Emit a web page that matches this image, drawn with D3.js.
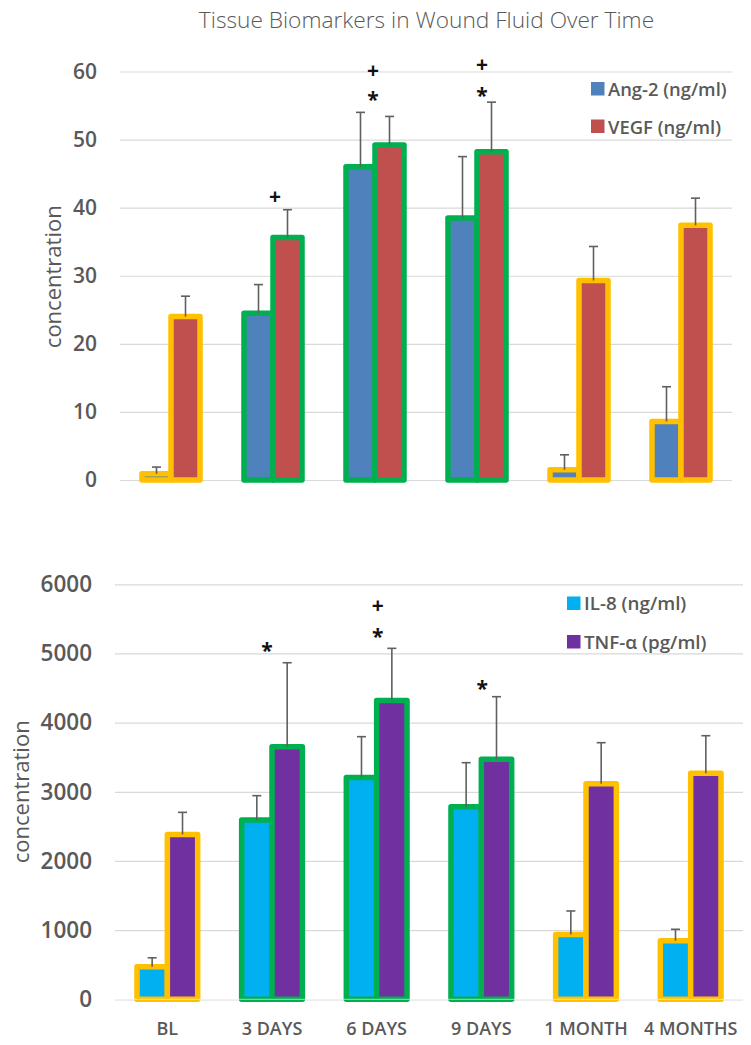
<!DOCTYPE html>
<html>
<head>
<meta charset="utf-8">
<script src="https://cdn.jsdelivr.net/npm/d3@7"></script>
<style>
  html, body { margin: 0; padding: 0; background: #fff; }
  svg { display: block; font-family: "Open Sans", "Liberation Sans", sans-serif; }
</style>
</head>
<body>
<svg id="chart" width="751" height="1045"></svg>
<script>
// ---------------- data ----------------
const categories = ["BL", "3 DAYS", "6 DAYS", "9 DAYS", "1 MONTH", "4 MONTHS"];
const borderGroup = ["orange", "green", "green", "green", "orange", "orange"];

const topSeries = ["Ang-2 (ng/ml)", "VEGF (ng/ml)"];
const ang2 = [0.9, 24.5, 46.0, 38.5, 1.5, 8.6];
const ang2Err = [1.0, 4.2, 8.0, 9.0, 2.2, 5.1];
const vegf = [24.0, 35.6, 49.2, 48.2, 29.3, 37.4];
const vegfErr = [3.0, 4.1, 4.2, 7.3, 5.0, 4.0];
const topTicks = [0, 10, 20, 30, 40, 50, 60];

const bottomSeries = ["IL-8 (ng/ml)", "TNF-\u03b1 (pg/ml)"];
const il8 = [470, 2592, 3207, 2783, 937, 846];
const il8Err = [130, 352, 590, 638, 340, 166];
const tnf = [2383, 3652, 4320, 3471, 3115, 3267];
const tnfErr = [320, 1214, 754, 904, 595, 544];
const bottomTicks = [0, 1000, 2000, 3000, 4000, 5000, 6000];

// significance marks: category, symbol, level in data units
const topMarks = [
  { cat: "3 DAYS", sym: "+", v: 41.5, dx: 2 },
  { cat: "6 DAYS", sym: "+", v: 60.1, dx: -2 },
  { cat: "6 DAYS", sym: "*", v: 56.5, dx: -2 },
  { cat: "9 DAYS", sym: "+", v: 61.0, dx: 5 },
  { cat: "9 DAYS", sym: "*", v: 57.2, dx: 5 }
];
const bottomMarks = [
  { cat: "3 DAYS", sym: "*", v: 5108, dx: -5 },
  { cat: "6 DAYS", sym: "+", v: 5686, dx: 1 },
  { cat: "6 DAYS", sym: "*", v: 5314, dx: 1 },
  { cat: "9 DAYS", sym: "*", v: 4558, dx: 1 }
];

// ---------------- style ----------------
const seriesColor = {
  "Ang-2 (ng/ml)": "#4F81BD",
  "VEGF (ng/ml)": "#C0504D",
  "IL-8 (ng/ml)": "#00B0F0",
  "TNF-\u03b1 (pg/ml)": "#7030A0"
};
const borderColor = { orange: "#FFC000", green: "#00B050" };
const textGray = "#595959";
const gridGray = "#D9D9D9";

const svg = d3.select("#chart");

svg.append("text")
  .attr("x", 426.5).attr("y", 19)
  .attr("text-anchor", "middle").attr("dominant-baseline", "central")
  .attr("font-size", 22.7).attr("font-weight", 300)
  .attr("fill", textGray)
  .text("Tissue Biomarkers in Wound Fluid Over Time");

function panel(cfg) {
  const g = svg.append("g");
  const x0 = d3.scaleBand().domain(categories)
    .range([cfg.left, cfg.right])
    .paddingInner(cfg.pad).paddingOuter(cfg.pad / 2);
  const x1 = d3.scaleBand().domain(cfg.series).range([0, x0.bandwidth()]).padding(0);
  const y = d3.scaleLinear().domain([0, d3.max(cfg.ticks)]).range([cfg.bottom, cfg.top]);

  // gridlines
  g.append("g")
    .attr("transform", `translate(${cfg.left},0)`)
    .call(d3.axisLeft(y).tickValues(cfg.ticks).tickSize(-(cfg.right - cfg.left)).tickFormat(""))
    .call(a => a.select(".domain").remove())
    .call(a => a.selectAll("line").attr("stroke", gridGray).attr("stroke-width", 1.2));

  // tick labels
  g.append("g")
    .attr("transform", `translate(${cfg.left},0)`)
    .call(d3.axisLeft(y).tickValues(cfg.ticks).tickSize(0).tickPadding(cfg.tickPad).tickFormat(d3.format("d")))
    .call(a => a.select(".domain").remove())
    .call(a => a.selectAll("text")
      .attr("font-family", '"Open Sans", sans-serif')
      .attr("font-size", cfg.tickFont).attr("font-weight", 650).attr("fill", textGray));

  // y title
  g.append("text")
    .attr("transform", `translate(${cfg.ytitleX},${(cfg.top + cfg.bottom) / 2 + cfg.ytitleDy}) rotate(-90)`)
    .attr("text-anchor", "middle").attr("dominant-baseline", "central")
    .attr("font-size", 22).attr("font-weight", 500).attr("fill", textGray)
    .text("concentration");

  // bars
  const rows = categories.map((c, i) => ({
    cat: c, i,
    vals: cfg.series.map((s, k) => ({ s, v: cfg.values[k][i], e: cfg.errors[k][i] }))
  }));
  const grp = g.selectAll(".grp").data(rows).join("g")
    .attr("transform", d => `translate(${x0(d.cat)},0)`);
  grp.selectAll("rect").data(d => d.vals.map(v => ({ ...v, b: borderGroup[d.i] }))).join("rect")
    .attr("x", d => x1(d.s))
    .attr("y", d => y(d.v))
    .attr("width", x1.bandwidth())
    .attr("height", d => y(0) - y(d.v))
    .attr("fill", d => seriesColor[d.s])
    .attr("stroke", d => borderColor[d.b])
    .attr("stroke-width", 5.5)
    .attr("stroke-linejoin", "round");

  if (cfg.baseOver) {
    g.append("line")
      .attr("x1", cfg.left).attr("x2", cfg.right)
      .attr("y1", y(0)).attr("y2", y(0))
      .attr("stroke", "#ffffff").attr("stroke-opacity", 0.6).attr("stroke-width", 1);
  }

  // error bars
  const eb = grp.selectAll(".eb").data(d => d.vals).join("g");
  eb.append("line")
    .attr("x1", d => x1(d.s) + x1.bandwidth() / 2)
    .attr("x2", d => x1(d.s) + x1.bandwidth() / 2)
    .attr("y1", d => y(d.v)).attr("y2", d => y(d.v + d.e))
    .attr("stroke", "#606060").attr("stroke-width", 1.6);
  eb.append("line")
    .attr("x1", d => x1(d.s) + x1.bandwidth() / 2 - 4.5)
    .attr("x2", d => x1(d.s) + x1.bandwidth() / 2 + 4.5)
    .attr("y1", d => y(d.v + d.e)).attr("y2", d => y(d.v + d.e))
    .attr("stroke", "#606060").attr("stroke-width", 1.6);

  // significance marks
  g.selectAll(".mark").data(cfg.marks).join("text")
    .attr("x", d => x0(d.cat) + x0.bandwidth() / 2 + d.dx)
    .attr("y", d => y(d.v) + (d.sym === "*" ? 12 : 7))
    .attr("text-anchor", "middle")
    .attr("font-size", 21).attr("font-weight", 700).attr("fill", "#111")
    .text(d => d.sym);

  // legend
  const lg = g.selectAll(".lg").data(cfg.series).join("g")
    .attr("transform", (d, k) => `translate(${cfg.legX},${cfg.legY + k * cfg.legGap})`);
  lg.append("rect").attr("x", 0).attr("y", -6.5).attr("width", 13.5).attr("height", 13.5)
    .attr("fill", d => seriesColor[d]);
  lg.append("text").attr("x", 17).attr("y", 0).attr("dominant-baseline", "central")
    .attr("font-size", cfg.legFont).attr("font-weight", 600).attr("fill", textGray)
    .text(d => d);

  return { x0, y, g };
}

panel({
  left: 120, right: 732, top: 71.5, bottom: 480, pad: 0.431,
  series: topSeries, values: [ang2, vegf], errors: [ang2Err, vegfErr],
  ticks: topTicks, tickFont: 21, tickPad: 23,
  ytitleX: 52, ytitleDy: 1, marks: topMarks,
  legX: 591, legY: 88.5, legGap: 37.5, legFont: 18.4, baseOver: false
});

const bot = panel({
  left: 115, right: 743, top: 584.3, bottom: 999.3, pad: 0.42,
  series: bottomSeries, values: [il8, tnf], errors: [il8Err, tnfErr],
  ticks: bottomTicks, tickFont: 22.5, tickPad: 23,
  ytitleX: 20, ytitleDy: 0, marks: bottomMarks,
  legX: 567, legY: 603, legGap: 38.5, legFont: 18.8, baseOver: true
});

// category labels
svg.append("g").selectAll("text").data(categories).join("text")
  .attr("x", d => bot.x0(d) + bot.x0.bandwidth() / 2)
  .attr("y", 1028)
  .attr("text-anchor", "middle").attr("dominant-baseline", "central")
  .attr("font-size", 18).attr("font-weight", 600).attr("fill", textGray)
  .text(d => d);
</script>
</body>
</html>
